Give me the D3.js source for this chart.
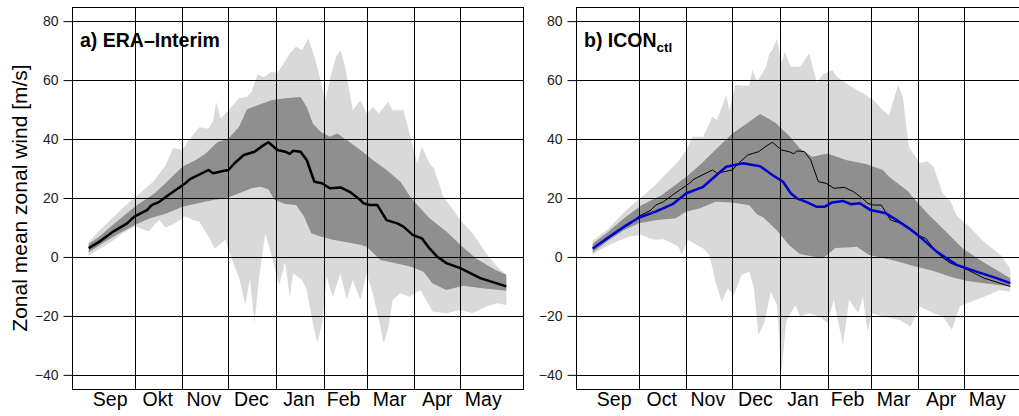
<!DOCTYPE html>
<html>
<head>
<meta charset="utf-8">
<script src="https://cdn.jsdelivr.net/npm/d3@7"></script>
<style>
  html, body { margin: 0; padding: 0; background: #fff; }
  svg text { font-family: "Liberation Sans", Arial, Helvetica, sans-serif; }
</style>
</head>
<body>
<div id="chart"></div>
<script>
// days counted from 1 Sep (day 0) to 31 May (day 272)
const monthsDe = ['Sep', 'Okt', 'Nov', 'Dec', 'Jan', 'Feb', 'Mar', 'Apr', 'May'];
const monthsEn = ['Sep', 'Oct', 'Nov', 'Dec', 'Jan', 'Feb', 'Mar', 'Apr', 'May'];
const monthMid = [14, 45, 75, 106, 137, 166, 196, 227, 257];
const monthStart = [30, 61, 91, 122, 153, 181, 212, 242];
const yTicks = [-40, -20, 0, 20, 40, 60, 80];

// ERA-Interim
const eraMean = [[0,3],[7,5.2],[16,8.6],[25,11.4],[30,13.8],[38,15.9],[41,17.6],[46,18.7],[52,21],[63,25],[66,26.4],[78,29.5],[81,28.4],[89,29.3],[91,29.5],[95,31.8],[101,34.6],[108,35.7],[113,37.6],[117,38.9],[123,36.3],[128,35.7],[131,35],[133,36],[138,35.7],[142,32.9],[147,25.5],[152,25],[157,23.3],[164,23.6],[170,22.1],[177,19.3],[179,18.2],[183,17.6],[188,17.6],[194,12.5],[201,11.4],[205,10.3],[211,7.5],[217,6.3],[222,2.9],[227,0.1],[233,-2.1],[242,-3.8],[255,-7.2],[272,-10]];
const eraDarkHi = [[0,4.5],[6,6.5],[16,11],[30,17],[43,21.6],[52,26],[61,30.6],[70,33],[76,35],[84,39],[91,40.2],[98,44.2],[103,50],[110,51.5],[119,53.2],[128,53.8],[138,54.3],[142,50.9],[146,45.3],[151,42.5],[157,40.8],[162,41.9],[168,39.7],[177,36.3],[185,32.9],[194,29.5],[203,25.5],[210,20],[216,16.5],[222,13.1],[233,8.6],[242,4.1],[252,-0.4],[265,-4.4],[272,-6]];
const eraDarkLo = [[0,1.5],[10,5],[20,8],[30,10.8],[40,13.1],[51,14.8],[61,17],[72,18.3],[81,19.3],[90,20],[100,22],[106,23.3],[112,23.8],[117,23],[121,19.3],[128,18],[135,17.6],[140,14],[145,8],[151,6.9],[159,5.8],[168,5],[177,4.1],[181,3.5],[190,-1],[200,-2.1],[210,-3.3],[218,-5],[224,-9],[233,-11.2],[244,-9.8],[255,-10.5],[272,-11.5]];
const eraMax = [[0,5],[6,8.5],[16,13.5],[25,18],[32,21],[42,25.5],[50,31],[55,37],[61,36.3],[65,39.5],[72,44],[78,43.5],[81,46],[83,52.5],[86,47],[93,51],[98,53.8],[103,54.3],[106,56],[110,62],[114,61],[119,62.8],[123,62.5],[127,65.6],[131,69],[135,71.3],[139,70.2],[143,74.1],[147,67.9],[151,60],[154,53.2],[157,60],[161,67.9],[164,70.2],[167,64.5],[172,49.8],[177,53.2],[181,48.7],[185,50.9],[189,48.7],[195,52.6],[198,49.8],[205,49.8],[209,41.9],[214,31.8],[217,37.4],[222,31.8],[225,30],[231,20.4],[236,17],[242,12.5],[250,8],[259,1.2],[266,-3.3],[272,-6]];
const eraMin = [[0,0.5],[8,3],[15,5.2],[22,8],[30,10.3],[35,9.5],[39,8.6],[43,11],[46,12.5],[50,10],[54,10.8],[58,12],[63,13.7],[68,12.5],[72,12],[78,6.9],[82,2.9],[86,4.5],[89,5.8],[93,-0.4],[98,-7.2],[102,-16.3],[105,-7.2],[108,-22.5],[111,-7.2],[115,8],[119,0.7],[124,-9.5],[128,-1.6],[131,-14],[133,-5.5],[139,-7.8],[142,-11.2],[146,-22.5],[149,-29.3],[152,-22.5],[155,-6.7],[159,-13.5],[164,-5.5],[168,-14.6],[172,-7.8],[177,-14.6],[181,-5.5],[185,-12.3],[190,-23.6],[192,-29.3],[195,-24.7],[198,-14.6],[203,-12.3],[209,-13.5],[216,-11.2],[224,-18.5],[233,-19.1],[242,-18],[250,-19.1],[259,-16.8],[266,-15.7],[272,-16.3]];

// ICON ctl
const iconMean = [[0,2.9],[11,6.9],[22,10.8],[30,13.3],[41,15.4],[52,17.9],[61,21.6],[72,23.8],[82,28.4],[87,30.6],[98,31.8],[109,30.8],[117,27.8],[124,25.5],[129,21.6],[133,19.9],[139,18.7],[146,17],[151,17],[156,18.5],[163,19],[168,17.9],[174,18.2],[181,15.9],[191,14.8],[198,12.5],[206,9.7],[213,6.9],[224,1.8],[237,-2.7],[250,-5],[263,-7.2],[272,-8.9]];
const iconDarkHi = [[0,4.5],[10,8.5],[20,13],[32,17.6],[45,21],[61,27.2],[71,31.8],[82,37.4],[91,41.9],[102,45.9],[109,48.5],[119,45.5],[128,41],[135,36.8],[143,34],[153,35.1],[165,32.9],[178,31.5],[189,29.5],[193,27.2],[200,24.4],[205,22.5],[211,18.7],[219,14.2],[230,8.6],[241,2.9],[254,-1.6],[272,-7.2]];
const iconDarkLo = [[0,1.5],[10,5.5],[20,9],[30,11.4],[42,12.5],[54,13.1],[61,15.4],[70,16.5],[80,18.7],[91,18.5],[102,17.5],[107,14.5],[111,13.5],[120,9],[128,4],[135,1],[144,0.1],[151,-0.1],[158,3],[166,3.2],[172,3.5],[180,0.7],[195,-1],[211,-3.3],[222,-4.8],[233,-6.7],[244,-8.2],[255,-8.9],[272,-10]];
const iconMax = [[0,5.5],[10,9.5],[20,15],[32,20.4],[40,24],[48,28.4],[55,32],[61,36.3],[65,40.8],[72,40.8],[78,47.6],[81,46.4],[87,55],[89,49.8],[93,58.3],[102,58],[104,63.4],[107,59.4],[113,64.5],[115,69],[117,70.2],[120,74],[123,65.6],[125,69.6],[129,64.5],[135,64.5],[141,69],[146,59],[150,62],[156,63.4],[159,61.1],[165,58.9],[172,56.6],[176,55.5],[183,53.2],[189,49.8],[193,48.1],[199,58.3],[202,54.3],[206,37.4],[213,31.8],[218,32.5],[222,30.6],[228,21.5],[233,19],[237,14],[245,10.5],[254,5.5],[266,0.5],[272,-4]];
const iconMin = [[0,0.7],[5,2.5],[11,4.1],[17,5.5],[24,6.9],[32,7.5],[36,6.5],[41,5.8],[46,6],[52,4.6],[56,3.5],[58,0.7],[62,5.8],[68,4],[72,2.9],[76,0.7],[80,-8.4],[84,-15.2],[88,-10.6],[92,-12.9],[97,-6.1],[102,-5],[105,-10.6],[108,-26.4],[112,-21.9],[116,-11.8],[120,-16.3],[123,-39.2],[126,-21.9],[132,-16.3],[135,-20.2],[141,-19.1],[148,-20.2],[153,-22.5],[157,-14.6],[163,-29.8],[167,-14.6],[173,-19.1],[176,-13.5],[179,-25.3],[182,-19.1],[189,-20.2],[200,-21.4],[207,-23.6],[213,-16.8],[222,-19.1],[228,-20.2],[234,-24.7],[239,-16.8],[244,-15.7],[255,-13.5],[265,-11.2],[272,-11.8]];

const width = 1019, height = 416;
const plotW = 451, plotTop = 7, plotBottom = 389;

const svg = d3.select('#chart').append('svg')
  .attr('width', width)
  .attr('height', height);

svg.append('rect').attr('width', width).attr('height', height).attr('fill', '#fff');

const y = d3.scaleLinear().domain([-44.8, 84.8]).range([plotBottom, plotTop]);

const drawPanel = (left, cfg) => {
  const x = d3.scaleLinear().domain([-10.88, 282.88]).range([left, left + plotW]);
  const g = svg.append('g');
  const line = d3.line().x((d) => x(d[0])).y((d) => y(d[1]));
  const band = (hi, lo) => line(hi.concat(lo.slice().reverse())) + 'Z';

  g.append('path').attr('d', band(cfg.max, cfg.min)).attr('fill', '#d9d9d9');
  g.append('path').attr('d', band(cfg.darkHi, cfg.darkLo)).attr('fill', '#8f8f8f');

  // grid
  g.selectAll('.hgrid').data(yTicks).join('line')
    .attr('x1', left).attr('x2', left + plotW)
    .attr('y1', (d) => Math.round(y(d)) + 0.5).attr('y2', (d) => Math.round(y(d)) + 0.5)
    .attr('stroke', '#000').attr('stroke-width', 1);
  g.selectAll('.vgrid').data(monthStart).join('line')
    .attr('x1', (d) => Math.round(x(d)) + 0.5).attr('x2', (d) => Math.round(x(d)) + 0.5)
    .attr('y1', plotTop).attr('y2', plotBottom)
    .attr('stroke', '#000').attr('stroke-width', 1);

  cfg.lines.forEach((l) => {
    g.append('path').attr('d', line(l.data)).attr('fill', 'none')
      .attr('stroke', l.color).attr('stroke-width', l.width)
      .attr('stroke-linejoin', 'round');
  });

  // frame
  g.append('rect')
    .attr('x', left + 0.5).attr('y', plotTop + 0.5)
    .attr('width', plotW).attr('height', plotBottom - plotTop)
    .attr('fill', 'none').attr('stroke', '#000').attr('stroke-width', 1);

  // y axis
  const ax = g.append('g')
    .attr('transform', `translate(${left + 0.5},0)`)
    .call(d3.axisLeft(y).tickValues(yTicks).tickSize(9).tickPadding(5)
      .tickFormat((d) => (d < 0 ? '\u2212' + Math.abs(d) : d)));
  ax.select('.domain').remove();
  ax.selectAll('text').attr('font-size', 14).attr('fill', '#222')
    .style('font-family', '"Liberation Sans", Arial, sans-serif');
  ax.selectAll('line').attr('stroke', '#000');

  // month labels
  g.selectAll('.mlab').data(cfg.months).join('text')
    .attr('x', (d, i) => x(monthMid[i]))
    .attr('y', 406)
    .attr('text-anchor', 'middle')
    .attr('font-size', 19.5)
    .text((d) => d);

  const t = g.append('text')
    .attr('x', left + 8).attr('y', 46.5)
    .attr('font-size', 19.5).attr('font-weight', 'bold');
  t.append('tspan').text(cfg.title);
  if (cfg.sub) {
    t.append('tspan').attr('font-size', 13.5).attr('dy', 5).text(cfg.sub);
  }
};

drawPanel(72, {
  title: 'a) ERA\u2013Interim',
  months: monthsDe,
  max: eraMax, min: eraMin, darkHi: eraDarkHi, darkLo: eraDarkLo,
  lines: [{ data: eraMean, color: '#000', width: 2.5 }]
});

drawPanel(576, {
  title: 'b) ICON', sub: 'ctl',
  months: monthsEn,
  max: iconMax, min: iconMin, darkHi: iconDarkHi, darkLo: iconDarkLo,
  lines: [
    { data: eraMean, color: '#000', width: 1 },
    { data: iconMean, color: '#0000cd', width: 2.5 }
  ]
});

svg.append('text')
  .attr('transform', `translate(27,${(plotTop + plotBottom) / 2}) rotate(-90)`)
  .attr('text-anchor', 'middle')
  .attr('font-size', 21)
  .text('Zonal mean zonal wind [m/s]');
</script>
</body>
</html>
